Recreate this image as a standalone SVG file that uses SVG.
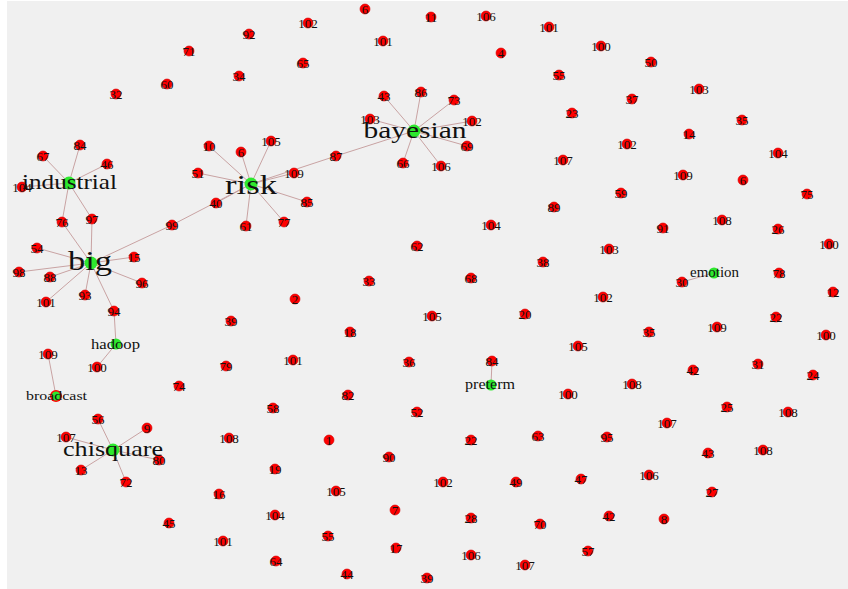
<svg xmlns="http://www.w3.org/2000/svg" width="848" height="589" viewBox="0 0 848 589">
<style>
.e{stroke:#c49a9a;stroke-width:0.9;fill:none}
.d circle{fill:#ff0000;stroke:#d00000;stroke-width:0.6}
.h circle{fill:#2ee82e}
text{font-family:"Liberation Serif","DejaVu Serif",serif;fill:#111;text-anchor:middle}
.d text{font-size:13px}
</style>
<rect x="0" y="0" width="848" height="589" fill="#ffffff"/>
<rect x="7" y="1" width="841" height="588" fill="#f0f0f0"/>
<g id="connectors">
<path class="e" d="M69,183L80,145M69,183L43,156M69,183L107,164M69,183L22,187M69,183L62,222M69,183L92,219"/>
<path class="e" d="M91,263L62,222M91,263L92,219M91,263L172,225M91,263L37,248M91,263L19,272M91,263L50,277M91,263L46,302M91,263L85,295M91,263L134,257M91,263L142,283M91,263L114,311"/>
<path class="e" d="M116,344L114,311M116,344L97,367"/>
<path class="e" d="M251,184L172,225M251,184L209,146M251,184L241,152M251,184L271,141M251,184L198,173M251,184L294,173M251,184L307,202M251,184L216,203M251,184L246,226M251,184L284,222M251,184L336,156"/>
<path class="e" d="M414,131L336,156M414,131L384,96M414,131L421,92M414,131L454,100M414,131L472,121M414,131L467,146M414,131L441,166M414,131L403,163M414,131L370,119"/>
<path class="e" d="M56,396L48,354"/>
<path class="e" d="M113,450L98,419M113,450L147,428M113,450L66,437M113,450L159,460M113,450L81,470M113,450L126,482"/>
<path class="e" d="M491,385L492,361"/>
<path class="e" d="M714,273L682,282"/>
</g>
<g id="nodes">
<g class="d" id="n1"><circle cx="365" cy="9" r="5"/><text x="365" y="13.5">6</text></g>
<g class="d" id="n2"><circle cx="431" cy="17" r="5"/><text x="431" y="21.5">11</text></g>
<g class="d" id="n3"><circle cx="486" cy="16" r="5"/><text x="486" y="20.5">106</text></g>
<g class="d" id="n4"><circle cx="549" cy="27" r="5"/><text x="549" y="31.5">101</text></g>
<g class="d" id="n5"><circle cx="601" cy="46" r="5"/><text x="601" y="50.5">100</text></g>
<g class="d" id="n6"><circle cx="501" cy="53" r="5"/><text x="501" y="57.5">4</text></g>
<g class="d" id="n7"><circle cx="559" cy="75" r="5"/><text x="559" y="79.5">55</text></g>
<g class="d" id="n8"><circle cx="651" cy="62" r="5"/><text x="651" y="66.5">50</text></g>
<g class="d" id="n9"><circle cx="699" cy="89" r="5"/><text x="699" y="93.5">103</text></g>
<g class="d" id="n10"><circle cx="632" cy="99" r="5"/><text x="632" y="103.5">37</text></g>
<g class="d" id="n11"><circle cx="742" cy="120" r="5"/><text x="742" y="124.5">35</text></g>
<g class="d" id="n12"><circle cx="572" cy="113" r="5"/><text x="572" y="117.5">23</text></g>
<g class="d" id="n13"><circle cx="689" cy="134" r="5"/><text x="689" y="138.5">14</text></g>
<g class="d" id="n14"><circle cx="627" cy="144" r="5"/><text x="627" y="148.5">102</text></g>
<g class="d" id="n15"><circle cx="778" cy="153" r="5"/><text x="778" y="157.5">104</text></g>
<g class="d" id="n16"><circle cx="563" cy="160" r="5"/><text x="563" y="164.5">107</text></g>
<g class="d" id="n17"><circle cx="683" cy="175" r="5"/><text x="683" y="179.5">109</text></g>
<g class="d" id="n18"><circle cx="743" cy="180" r="5"/><text x="743" y="184.5">6</text></g>
<g class="d" id="n19"><circle cx="621" cy="193" r="5"/><text x="621" y="197.5">59</text></g>
<g class="d" id="n20"><circle cx="807" cy="194" r="5"/><text x="807" y="198.5">75</text></g>
<g class="d" id="n21"><circle cx="189" cy="51" r="5"/><text x="189" y="55.5">71</text></g>
<g class="d" id="n22"><circle cx="249" cy="34" r="5"/><text x="249" y="38.5">92</text></g>
<g class="d" id="n23"><circle cx="308" cy="23" r="5"/><text x="308" y="27.5">102</text></g>
<g class="d" id="n24"><circle cx="383" cy="41" r="5"/><text x="383" y="45.5">101</text></g>
<g class="d" id="n25"><circle cx="303" cy="63" r="5"/><text x="303" y="67.5">65</text></g>
<g class="d" id="n26"><circle cx="167" cy="84" r="5"/><text x="167" y="88.5">60</text></g>
<g class="d" id="n27"><circle cx="239" cy="76" r="5"/><text x="239" y="80.5">34</text></g>
<g class="d" id="n28"><circle cx="116" cy="94" r="5"/><text x="116" y="98.5">32</text></g>
<g class="d" id="n29"><circle cx="384" cy="96" r="5"/><text x="384" y="100.5">43</text></g>
<g class="d" id="n30"><circle cx="421" cy="92" r="5"/><text x="421" y="96.5">86</text></g>
<g class="d" id="n31"><circle cx="454" cy="100" r="5"/><text x="454" y="104.5">73</text></g>
<g class="d" id="n32"><circle cx="472" cy="121" r="5"/><text x="472" y="125.5">102</text></g>
<g class="d" id="n33"><circle cx="467" cy="146" r="5"/><text x="467" y="150.5">69</text></g>
<g class="d" id="n34"><circle cx="441" cy="166" r="5"/><text x="441" y="170.5">106</text></g>
<g class="d" id="n35"><circle cx="403" cy="163" r="5"/><text x="403" y="167.5">66</text></g>
<g class="d" id="n36"><circle cx="370" cy="119" r="5"/><text x="370" y="123.5">103</text></g>
<g class="d" id="n37"><circle cx="336" cy="156" r="5"/><text x="336" y="160.5">87</text></g>
<g class="d" id="n38"><circle cx="271" cy="141" r="5"/><text x="271" y="145.5">105</text></g>
<g class="d" id="n39"><circle cx="241" cy="152" r="5"/><text x="241" y="156.5">6</text></g>
<g class="d" id="n40"><circle cx="209" cy="146" r="5"/><text x="209" y="150.5">10</text></g>
<g class="d" id="n41"><circle cx="198" cy="173" r="5"/><text x="198" y="177.5">51</text></g>
<g class="d" id="n42"><circle cx="294" cy="173" r="5"/><text x="294" y="177.5">109</text></g>
<g class="d" id="n43"><circle cx="307" cy="202" r="5"/><text x="307" y="206.5">85</text></g>
<g class="d" id="n44"><circle cx="216" cy="203" r="5"/><text x="216" y="207.5">40</text></g>
<g class="d" id="n45"><circle cx="246" cy="226" r="5"/><text x="246" y="230.5">61</text></g>
<g class="d" id="n46"><circle cx="284" cy="222" r="5"/><text x="284" y="226.5">77</text></g>
<g class="d" id="n47"><circle cx="172" cy="225" r="5"/><text x="172" y="229.5">99</text></g>
<g class="d" id="n48"><circle cx="80" cy="145" r="5"/><text x="80" y="149.5">84</text></g>
<g class="d" id="n49"><circle cx="43" cy="156" r="5"/><text x="43" y="160.5">67</text></g>
<g class="d" id="n50"><circle cx="107" cy="164" r="5"/><text x="107" y="168.5">46</text></g>
<g class="d" id="n51"><circle cx="22" cy="187" r="5"/><text x="22" y="191.5">104</text></g>
<g class="d" id="n52"><circle cx="62" cy="222" r="5"/><text x="62" y="226.5">76</text></g>
<g class="d" id="n53"><circle cx="92" cy="219" r="5"/><text x="92" y="223.5">97</text></g>
<g class="d" id="n54"><circle cx="37" cy="248" r="5"/><text x="37" y="252.5">54</text></g>
<g class="d" id="n55"><circle cx="19" cy="272" r="5"/><text x="19" y="276.5">98</text></g>
<g class="d" id="n56"><circle cx="50" cy="277" r="5"/><text x="50" y="281.5">88</text></g>
<g class="d" id="n57"><circle cx="46" cy="302" r="5"/><text x="46" y="306.5">101</text></g>
<g class="d" id="n58"><circle cx="85" cy="295" r="5"/><text x="85" y="299.5">93</text></g>
<g class="d" id="n59"><circle cx="134" cy="257" r="5"/><text x="134" y="261.5">15</text></g>
<g class="d" id="n60"><circle cx="142" cy="283" r="5"/><text x="142" y="287.5">96</text></g>
<g class="d" id="n61"><circle cx="114" cy="311" r="5"/><text x="114" y="315.5">94</text></g>
<g class="d" id="n62"><circle cx="97" cy="367" r="5"/><text x="97" y="371.5">100</text></g>
<g class="d" id="n63"><circle cx="48" cy="354" r="5"/><text x="48" y="358.5">109</text></g>
<g class="d" id="n64"><circle cx="98" cy="419" r="5"/><text x="98" y="423.5">56</text></g>
<g class="d" id="n65"><circle cx="147" cy="428" r="5"/><text x="147" y="432.5">9</text></g>
<g class="d" id="n66"><circle cx="66" cy="437" r="5"/><text x="66" y="441.5">107</text></g>
<g class="d" id="n67"><circle cx="159" cy="460" r="5"/><text x="159" y="464.5">80</text></g>
<g class="d" id="n68"><circle cx="81" cy="470" r="5"/><text x="81" y="474.5">13</text></g>
<g class="d" id="n69"><circle cx="126" cy="482" r="5"/><text x="126" y="486.5">72</text></g>
<g class="d" id="n70"><circle cx="417" cy="246" r="5"/><text x="417" y="250.5">62</text></g>
<g class="d" id="n71"><circle cx="369" cy="281" r="5"/><text x="369" y="285.5">33</text></g>
<g class="d" id="n72"><circle cx="295" cy="299" r="5"/><text x="295" y="303.5">2</text></g>
<g class="d" id="n73"><circle cx="231" cy="321" r="5"/><text x="231" y="325.5">39</text></g>
<g class="d" id="n74"><circle cx="350" cy="332" r="5"/><text x="350" y="336.5">18</text></g>
<g class="d" id="n75"><circle cx="293" cy="360" r="5"/><text x="293" y="364.5">101</text></g>
<g class="d" id="n76"><circle cx="226" cy="366" r="5"/><text x="226" y="370.5">79</text></g>
<g class="d" id="n77"><circle cx="409" cy="362" r="5"/><text x="409" y="366.5">36</text></g>
<g class="d" id="n78"><circle cx="348" cy="395" r="5"/><text x="348" y="399.5">82</text></g>
<g class="d" id="n79"><circle cx="179" cy="386" r="5"/><text x="179" y="390.5">74</text></g>
<g class="d" id="n80"><circle cx="273" cy="408" r="5"/><text x="273" y="412.5">58</text></g>
<g class="d" id="n81"><circle cx="417" cy="412" r="5"/><text x="417" y="416.5">52</text></g>
<g class="d" id="n82"><circle cx="229" cy="438" r="5"/><text x="229" y="442.5">108</text></g>
<g class="d" id="n83"><circle cx="329" cy="440" r="5"/><text x="329" y="444.5">1</text></g>
<g class="d" id="n84"><circle cx="389" cy="457" r="5"/><text x="389" y="461.5">90</text></g>
<g class="d" id="n85"><circle cx="275" cy="469" r="5"/><text x="275" y="473.5">19</text></g>
<g class="d" id="n86"><circle cx="219" cy="494" r="5"/><text x="219" y="498.5">16</text></g>
<g class="d" id="n87"><circle cx="336" cy="491" r="5"/><text x="336" y="495.5">105</text></g>
<g class="d" id="n88"><circle cx="395" cy="510" r="5"/><text x="395" y="514.5">7</text></g>
<g class="d" id="n89"><circle cx="275" cy="515" r="5"/><text x="275" y="519.5">104</text></g>
<g class="d" id="n90"><circle cx="223" cy="541" r="5"/><text x="223" y="545.5">101</text></g>
<g class="d" id="n91"><circle cx="328" cy="536" r="5"/><text x="328" y="540.5">55</text></g>
<g class="d" id="n92"><circle cx="396" cy="548" r="5"/><text x="396" y="552.5">17</text></g>
<g class="d" id="n93"><circle cx="276" cy="561" r="5"/><text x="276" y="565.5">64</text></g>
<g class="d" id="n94"><circle cx="347" cy="574" r="5"/><text x="347" y="578.5">44</text></g>
<g class="d" id="n95"><circle cx="427" cy="578" r="5"/><text x="427" y="582.5">39</text></g>
<g class="d" id="n96"><circle cx="169" cy="523" r="5"/><text x="169" y="527.5">45</text></g>
<g class="d" id="n97"><circle cx="554" cy="207" r="5"/><text x="554" y="211.5">89</text></g>
<g class="d" id="n98"><circle cx="491" cy="225" r="5"/><text x="491" y="229.5">104</text></g>
<g class="d" id="n99"><circle cx="609" cy="249" r="5"/><text x="609" y="253.5">103</text></g>
<g class="d" id="n100"><circle cx="543" cy="262" r="5"/><text x="543" y="266.5">38</text></g>
<g class="d" id="n101"><circle cx="471" cy="278" r="5"/><text x="471" y="282.5">68</text></g>
<g class="d" id="n102"><circle cx="603" cy="297" r="5"/><text x="603" y="301.5">102</text></g>
<g class="d" id="n103"><circle cx="432" cy="316" r="5"/><text x="432" y="320.5">105</text></g>
<g class="d" id="n104"><circle cx="525" cy="314" r="5"/><text x="525" y="318.5">20</text></g>
<g class="d" id="n105"><circle cx="578" cy="346" r="5"/><text x="578" y="350.5">105</text></g>
<g class="d" id="n106"><circle cx="492" cy="361" r="5"/><text x="492" y="365.5">84</text></g>
<g class="d" id="n107"><circle cx="568" cy="394" r="5"/><text x="568" y="398.5">100</text></g>
<g class="d" id="n108"><circle cx="471" cy="440" r="5"/><text x="471" y="444.5">22</text></g>
<g class="d" id="n109"><circle cx="538" cy="436" r="5"/><text x="538" y="440.5">63</text></g>
<g class="d" id="n110"><circle cx="607" cy="437" r="5"/><text x="607" y="441.5">95</text></g>
<g class="d" id="n111"><circle cx="443" cy="482" r="5"/><text x="443" y="486.5">102</text></g>
<g class="d" id="n112"><circle cx="516" cy="482" r="5"/><text x="516" y="486.5">49</text></g>
<g class="d" id="n113"><circle cx="581" cy="479" r="5"/><text x="581" y="483.5">47</text></g>
<g class="d" id="n114"><circle cx="471" cy="518" r="5"/><text x="471" y="522.5">28</text></g>
<g class="d" id="n115"><circle cx="540" cy="524" r="5"/><text x="540" y="528.5">70</text></g>
<g class="d" id="n116"><circle cx="609" cy="516" r="5"/><text x="609" y="520.5">42</text></g>
<g class="d" id="n117"><circle cx="471" cy="555" r="5"/><text x="471" y="559.5">106</text></g>
<g class="d" id="n118"><circle cx="588" cy="551" r="5"/><text x="588" y="555.5">57</text></g>
<g class="d" id="n119"><circle cx="525" cy="565" r="5"/><text x="525" y="569.5">107</text></g>
<g class="d" id="n120"><circle cx="722" cy="220" r="5"/><text x="722" y="224.5">108</text></g>
<g class="d" id="n121"><circle cx="663" cy="228" r="5"/><text x="663" y="232.5">91</text></g>
<g class="d" id="n122"><circle cx="778" cy="229" r="5"/><text x="778" y="233.5">26</text></g>
<g class="d" id="n123"><circle cx="829" cy="244" r="5"/><text x="829" y="248.5">100</text></g>
<g class="d" id="n124"><circle cx="682" cy="282" r="5"/><text x="682" y="286.5">30</text></g>
<g class="d" id="n125"><circle cx="779" cy="273" r="5"/><text x="779" y="277.5">78</text></g>
<g class="d" id="n126"><circle cx="833" cy="292" r="5"/><text x="833" y="296.5">12</text></g>
<g class="d" id="n127"><circle cx="649" cy="332" r="5"/><text x="649" y="336.5">35</text></g>
<g class="d" id="n128"><circle cx="717" cy="327" r="5"/><text x="717" y="331.5">109</text></g>
<g class="d" id="n129"><circle cx="776" cy="317" r="5"/><text x="776" y="321.5">22</text></g>
<g class="d" id="n130"><circle cx="826" cy="335" r="5"/><text x="826" y="339.5">100</text></g>
<g class="d" id="n131"><circle cx="693" cy="370" r="5"/><text x="693" y="374.5">42</text></g>
<g class="d" id="n132"><circle cx="758" cy="364" r="5"/><text x="758" y="368.5">31</text></g>
<g class="d" id="n133"><circle cx="813" cy="375" r="5"/><text x="813" y="379.5">24</text></g>
<g class="d" id="n134"><circle cx="632" cy="384" r="5"/><text x="632" y="388.5">108</text></g>
<g class="d" id="n135"><circle cx="727" cy="407" r="5"/><text x="727" y="411.5">25</text></g>
<g class="d" id="n136"><circle cx="788" cy="412" r="5"/><text x="788" y="416.5">108</text></g>
<g class="d" id="n137"><circle cx="667" cy="423" r="5"/><text x="667" y="427.5">107</text></g>
<g class="d" id="n138"><circle cx="708" cy="453" r="5"/><text x="708" y="457.5">43</text></g>
<g class="d" id="n139"><circle cx="763" cy="450" r="5"/><text x="763" y="454.5">108</text></g>
<g class="d" id="n140"><circle cx="649" cy="475" r="5"/><text x="649" y="479.5">106</text></g>
<g class="d" id="n141"><circle cx="712" cy="492" r="5"/><text x="712" y="496.5">27</text></g>
<g class="d" id="n142"><circle cx="664" cy="519" r="5"/><text x="664" y="523.5">8</text></g>
<g class="h" id="big"><circle cx="91" cy="263" r="6.5"/><text x="90" y="270" font-size="28" textLength="44" lengthAdjust="spacingAndGlyphs">big</text></g>
<g class="h" id="risk"><circle cx="251" cy="184" r="6.5"/><text x="251" y="194" font-size="28" textLength="52" lengthAdjust="spacingAndGlyphs">risk</text></g>
<g class="h" id="bayesian"><circle cx="414" cy="131" r="6.5"/><text x="415" y="138" font-size="23" textLength="103" lengthAdjust="spacingAndGlyphs">bayesian</text></g>
<g class="h" id="industrial"><circle cx="69" cy="183" r="6.5"/><text x="69.5" y="189" font-size="22" textLength="95" lengthAdjust="spacingAndGlyphs">industrial</text></g>
<g class="h" id="chisquare"><circle cx="113" cy="450" r="6.5"/><text x="113" y="456" font-size="22" textLength="100" lengthAdjust="spacingAndGlyphs">chisquare</text></g>
<g class="h" id="hadoop"><circle cx="116" cy="344" r="5.5"/><text x="115.5" y="349" font-size="14" textLength="49" lengthAdjust="spacingAndGlyphs">hadoop</text></g>
<g class="h" id="broadcast"><circle cx="56" cy="396" r="6" fill="#ff0000" style="fill:#ff0000"/><circle cx="56" cy="396" r="4.5"/><text x="56.5" y="400" font-size="13" textLength="61" lengthAdjust="spacingAndGlyphs">broadcast</text></g>
<g class="h" id="emotion"><circle cx="714" cy="273" r="5.5"/><text x="714.5" y="277" font-size="14" textLength="49" lengthAdjust="spacingAndGlyphs">emotion</text></g>
<g class="h" id="preterm"><circle cx="491" cy="385" r="5.5"/><text x="490" y="389" font-size="14" textLength="50" lengthAdjust="spacingAndGlyphs">preterm</text></g>
</g>
</svg>
